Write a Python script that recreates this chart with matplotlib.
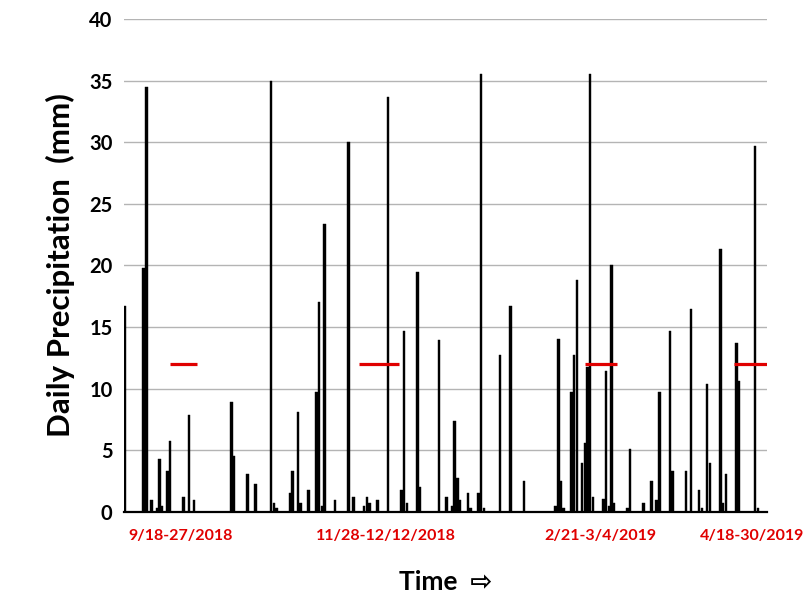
import matplotlib
matplotlib.use("Agg")
import matplotlib.pyplot as plt
import matplotlib.transforms as mtransforms
import pandas as pd

# ---- data ----
start_date = "2018-09-01"
end_date = "2019-04-30"

rain_dates = [
    "2018-09-01", "2018-09-08", "2018-09-09", "2018-09-11", "2018-09-13", "2018-09-14",
    "2018-09-15", "2018-09-17", "2018-09-18", "2018-09-23", "2018-09-25", "2018-09-27",
    "2018-10-11", "2018-10-12", "2018-10-17", "2018-10-20", "2018-10-26", "2018-10-27",
    "2018-10-28", "2018-11-02", "2018-11-03", "2018-11-05", "2018-11-06", "2018-11-09",
    "2018-11-12", "2018-11-13", "2018-11-14", "2018-11-15", "2018-11-19", "2018-11-24",
    "2018-11-26", "2018-11-30", "2018-12-01", "2018-12-02", "2018-12-05", "2018-12-09",
    "2018-12-14", "2018-12-15", "2018-12-16", "2018-12-20", "2018-12-21", "2018-12-28",
    "2018-12-31", "2019-01-02", "2019-01-03", "2019-01-04", "2019-01-05", "2019-01-08",
    "2019-01-09", "2019-01-12", "2019-01-13", "2019-01-14", "2019-01-20", "2019-01-24",
    "2019-01-29", "2019-02-10", "2019-02-11", "2019-02-12", "2019-02-13", "2019-02-16",
    "2019-02-17", "2019-02-18", "2019-02-20", "2019-02-21", "2019-02-22", "2019-02-23",
    "2019-02-24", "2019-02-28", "2019-03-01", "2019-03-02", "2019-03-03", "2019-03-04",
    "2019-03-09", "2019-03-10", "2019-03-15", "2019-03-18", "2019-03-20", "2019-03-21",
    "2019-03-25", "2019-03-26", "2019-03-31", "2019-04-02", "2019-04-05", "2019-04-06",
    "2019-04-08", "2019-04-09", "2019-04-13", "2019-04-14", "2019-04-15", "2019-04-19",
    "2019-04-20", "2019-04-26", "2019-04-27",
]
rain_mm = [
    16.7, 19.8, 34.5, 1.0, 0.3, 4.3,
    0.5, 3.3, 5.8, 1.25, 7.9, 1.0,
    8.9, 4.55, 3.05, 2.3, 35.0, 0.75,
    0.3, 1.5, 3.3, 8.1, 0.75, 1.8,
    9.7, 17.05, 0.5, 23.4, 1.0, 30.0,
    1.25, 0.5, 1.25, 0.75, 1.0, 33.7,
    1.8, 14.7, 0.75, 19.5, 2.0, 13.95,
    1.25, 0.5, 7.35, 2.75, 1.0, 1.5,
    0.3, 1.5, 35.5, 0.3, 12.7, 16.7,
    2.55, 0.5, 14.0, 2.55, 0.3, 9.7,
    12.7, 18.8, 4.0, 5.6, 11.8, 35.5,
    1.25, 1.05, 11.4, 0.5, 20.0, 0.75,
    0.3, 5.1, 0.75, 2.55, 1.0, 9.7,
    14.7, 3.3, 3.3, 16.5, 1.8, 0.3,
    10.4, 4.0, 21.3, 0.75, 3.05, 13.7,
    10.65, 29.7, 0.3,
]

period_starts = ["2018-09-18", "2018-11-28", "2019-02-21", "2019-04-18"]
period_ends = ["2018-09-27", "2018-12-12", "2019-03-04", "2019-04-30"]
period_labels = ["9/18-27/2018", "11/28-12/12/2018", "2/21-3/4/2019", "4/18-30/2019"]
label_anchor_dates = ["2018-09-22", "2018-12-08", "2019-02-27", "2019-04-25"]
period_level = 12

y_ticks = [0, 5, 10, 15, 20, 25, 30, 35, 40]

# ---- plotting ----
plt.rcParams['font.family'] = ['Lato', 'DejaVu Sans']

t0 = pd.Timestamp(start_date)
n_days = (pd.Timestamp(end_date) - t0).days + 1
day_idx = [(pd.Timestamp(d) - t0).days for d in rain_dates]

fig = plt.figure(figsize=(8.05, 5.97), dpi=100)
ax = fig.add_axes([0.1537, 0.1424, 0.7991, 0.8258])

ax.bar(day_idx, rain_mm, width=0.9, color='black', edgecolor='black',
       linewidth=0.3, zorder=3)

for s, e in zip(period_starts, period_ends):
    xs = (pd.Timestamp(s) - t0).days
    xe = (pd.Timestamp(e) - t0).days + 1
    ax.plot([xs, xe], [period_level, period_level], color='#e00000', lw=2.3,
            solid_capstyle='butt', zorder=4)

ax.set_xlim(-0.5, n_days - 0.5)
ax.set_ylim(0, 40)
ax.set_yticks(y_ticks)
ax.set_yticklabels([str(v) for v in y_ticks], fontsize=14.5, fontweight='bold')
ax.tick_params(axis='y', length=0, pad=8)
ax.set_xticks([])
ax.grid(axis='y', color='#b4b4b4', lw=1.0, zorder=0)
for side in ['left', 'right', 'top']:
    ax.spines[side].set_visible(False)
ax.spines['bottom'].set_color('black')
ax.spines['bottom'].set_linewidth(1.6)
ax.spines['bottom'].set_zorder(5)

ax.set_ylabel('Daily Precipitation  (mm)', fontsize=22.5, fontweight='bold', labelpad=10)

trans = mtransforms.blended_transform_factory(ax.transData, ax.transAxes)
for d, lab in zip(label_anchor_dates, period_labels):
    xc = (pd.Timestamp(d) - t0).days
    ax.text(xc, -0.048, lab, transform=trans, ha='center', va='center',
            color='#e00000', fontsize=11.5, fontweight='bold')

fig.text(0.554, 0.025, 'Time  \u21e8', ha='center', va='center', fontsize=19,
         fontweight='bold')

fig.savefig('out.png', dpi=100, facecolor='white')
